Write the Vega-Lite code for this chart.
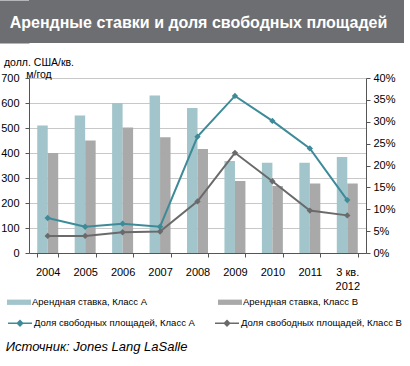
{
  "$schema": "https://vega.github.io/schema/vega-lite/v6.json",
  "padding": 0,
  "background": "white",
  "spacing": 14,
  "columns": 1,
  "align": "none",
  "config": {
    "view": {"stroke": null},
    "font": "Liberation Sans, Arial",
    "axis": {"labelFont": "Liberation Sans, Arial", "titleFont": "Liberation Sans, Arial"},
    "legend": {"labelFont": "Liberation Sans, Arial"}
  },
  "title": {
    "text": "Источник: Jones Lang LaSalle",
    "orient": "bottom",
    "anchor": "start",
    "fontStyle": "italic",
    "fontWeight": "normal",
    "fontSize": 13,
    "font": "Liberation Sans, Arial",
    "color": "#000000",
    "offset": 12,
    "dx": 5
  },
  "datasets": {
    "rent": [
      {"year": "2004", "series": "Арендная ставка, Класс А", "rent": 510},
      {"year": "2005", "series": "Арендная ставка, Класс А", "rent": 550},
      {"year": "2006", "series": "Арендная ставка, Класс А", "rent": 600},
      {"year": "2007", "series": "Арендная ставка, Класс А", "rent": 630},
      {"year": "2008", "series": "Арендная ставка, Класс А", "rent": 580},
      {"year": "2009", "series": "Арендная ставка, Класс А", "rent": 368},
      {"year": "2010", "series": "Арендная ставка, Класс А", "rent": 361},
      {"year": "2011", "series": "Арендная ставка, Класс А", "rent": 361},
      {"year": "3 кв. 2012", "series": "Арендная ставка, Класс А", "rent": 384},
      {"year": "2004", "series": "Арендная ставка, Класс В", "rent": 400},
      {"year": "2005", "series": "Арендная ставка, Класс В", "rent": 450},
      {"year": "2006", "series": "Арендная ставка, Класс В", "rent": 502},
      {"year": "2007", "series": "Арендная ставка, Класс В", "rent": 463},
      {"year": "2008", "series": "Арендная ставка, Класс В", "rent": 416},
      {"year": "2009", "series": "Арендная ставка, Класс В", "rent": 288},
      {"year": "2010", "series": "Арендная ставка, Класс В", "rent": 268},
      {"year": "2011", "series": "Арендная ставка, Класс В", "rent": 278},
      {"year": "3 кв. 2012", "series": "Арендная ставка, Класс В", "rent": 278}
    ],
    "vac": [
      {"year": "2004", "vseries": "Доля свободных площадей, Класс А", "vac": 0.080},
      {"year": "2005", "vseries": "Доля свободных площадей, Класс А", "vac": 0.060},
      {"year": "2006", "vseries": "Доля свободных площадей, Класс А", "vac": 0.067},
      {"year": "2007", "vseries": "Доля свободных площадей, Класс А", "vac": 0.060},
      {"year": "2008", "vseries": "Доля свободных площадей, Класс А", "vac": 0.266},
      {"year": "2009", "vseries": "Доля свободных площадей, Класс А", "vac": 0.359},
      {"year": "2010", "vseries": "Доля свободных площадей, Класс А", "vac": 0.302},
      {"year": "2011", "vseries": "Доля свободных площадей, Класс А", "vac": 0.239},
      {"year": "3 кв. 2012", "vseries": "Доля свободных площадей, Класс А", "vac": 0.121},
      {"year": "2004", "vseries": "Доля свободных площадей, Класс В", "vac": 0.039},
      {"year": "2005", "vseries": "Доля свободных площадей, Класс В", "vac": 0.039},
      {"year": "2006", "vseries": "Доля свободных площадей, Класс В", "vac": 0.0475},
      {"year": "2007", "vseries": "Доля свободных площадей, Класс В", "vac": 0.049},
      {"year": "2008", "vseries": "Доля свободных площадей, Класс В", "vac": 0.118},
      {"year": "2009", "vseries": "Доля свободных площадей, Класс В", "vac": 0.229},
      {"year": "2010", "vseries": "Доля свободных площадей, Класс В", "vac": 0.164},
      {"year": "2011", "vseries": "Доля свободных площадей, Класс В", "vac": 0.097},
      {"year": "3 кв. 2012", "vseries": "Доля свободных площадей, Класс В", "vac": 0.086}
    ],
    "head": [{"t": "Арендные ставки и доля свободных площадей"}]
  },
  "concat": [
    {
      "width": 375,
      "height": 43,
      "view": {"fill": "#6d6e71", "stroke": null},
      "data": {"name": "head"},
      "mark": {"type": "text", "color": "white", "fontSize": 16, "fontWeight": "bold", "font": "Liberation Sans, Arial", "dx": -18, "dy": 1},
      "encoding": {
        "text": {"field": "t"},
        "y": {
          "datum": 0, "type": "quantitative",
          "scale": {"domain": [-1, 1]},
          "axis": {
            "title": null, "labels": false, "ticks": false, "grid": false,
            "domainColor": "#6d6e71", "domainWidth": 35, "domainCap": "butt", "offset": 17.5,
            "minExtent": 0, "maxExtent": 0
          }
        }
      }
    },
    {
      "width": 337,
      "height": 175,
      "layer": [
        {
          "data": {"name": "rent"},
          "mark": {"type": "bar"},
          "encoding": {
            "x": {
              "field": "year", "type": "nominal", "sort": null,
              "scale": {"paddingInner": 0.44, "paddingOuter": 0.22},
              "axis": {
                "title": null, "labelAngle": 0, "tickBand": "extent",
                "labelExpr": "datum.label == '3 кв. 2012' ? ['3 кв.', '2012'] : datum.label",
                "domainColor": "#555555", "tickColor": "#555555", "tickSize": 4,
                "labelFontSize": 11, "labelColor": "#000000", "labelPadding": 9, "labelLineHeight": 14
              }
            },
            "xOffset": {"field": "series", "type": "nominal", "sort": null, "scale": {"paddingInner": 0}},
            "y": {
              "field": "rent", "type": "quantitative",
              "scale": {"domain": [0, 700]},
              "axis": {
                "values": [0, 100, 200, 300, 400, 500, 600, 700],
                "grid": true, "gridColor": "#c8c8c8",
                "domainColor": "#555555", "tickColor": "#555555", "tickSize": 4,
                "labelFontSize": 11, "labelColor": "#000000", "labelPadding": 6,
                "minExtent": 28, "maxExtent": 30,
                "title": ["долл. США/кв.", "м/год"],
                "titleAngle": 0, "titleAlign": "center", "titleBaseline": "bottom",
                "titleX": 9.5, "titleY": -11, "titleFontSize": 10.5, "titleFontWeight": "normal", "titleColor": "#000000", "titleLineHeight": 12
              }
            },
            "fill": {
              "field": "series", "type": "nominal", "sort": null,
              "scale": {"range": ["#a2c4cb", "#a9a9a9"]},
              "legend": {
                "title": null, "orient": "none", "legendX": -22, "legendY": 290,
                "direction": "horizontal", "columns": 2, "columnPadding": 70, "labelLimit": 300,
                "symbolType": "M-1,-0.22H1V0.22H-1Z", "symbolSize": 576, "symbolStrokeWidth": 0,
                "labelFontSize": 9.5, "labelColor": "#000000", "labelOffset": 1
              }
            }
          }
        },
        {
          "data": {"name": "vac"},
          "mark": {"type": "line", "strokeWidth": 2, "point": {"shape": "diamond", "filled": true, "size": 40}},
          "encoding": {
            "x": {"field": "year", "type": "nominal", "sort": null},
            "y": {
              "field": "vac", "type": "quantitative",
              "scale": {"domain": [0, 0.4]},
              "axis": {
                "orient": "right", "format": ".0%",
                "values": [0, 0.05, 0.1, 0.15, 0.2, 0.25, 0.3, 0.35, 0.4],
                "grid": false, "title": null,
                "domainColor": "#555555", "tickColor": "#555555", "tickSize": 4,
                "labelFontSize": 11, "labelColor": "#000000", "labelPadding": 3
              }
            },
            "color": {
              "field": "vseries", "type": "nominal", "sort": null,
              "scale": {"range": ["#3d8b99", "#6a6a6a"]},
              "legend": {
                "title": null, "orient": "none", "legendX": -22, "legendY": 310,
                "direction": "horizontal", "columns": 2, "columnPadding": 17, "labelLimit": 300,
                "symbolType": "M-1,0H1M0,-0.22L0.22,0L0,0.22L-0.22,0Z", "symbolSize": 576, "symbolStrokeWidth": 1.5,
                "labelFontSize": 9.5, "labelColor": "#000000", "labelOffset": 1,
                "encode": {"symbols": {"update": {"fill": {"scale": "color", "field": "value"}, "stroke": {"scale": "color", "field": "value"}}}}
              }
            }
          }
        }
      ],
      "resolve": {"scale": {"y": "independent"}}
    }
  ]
}
